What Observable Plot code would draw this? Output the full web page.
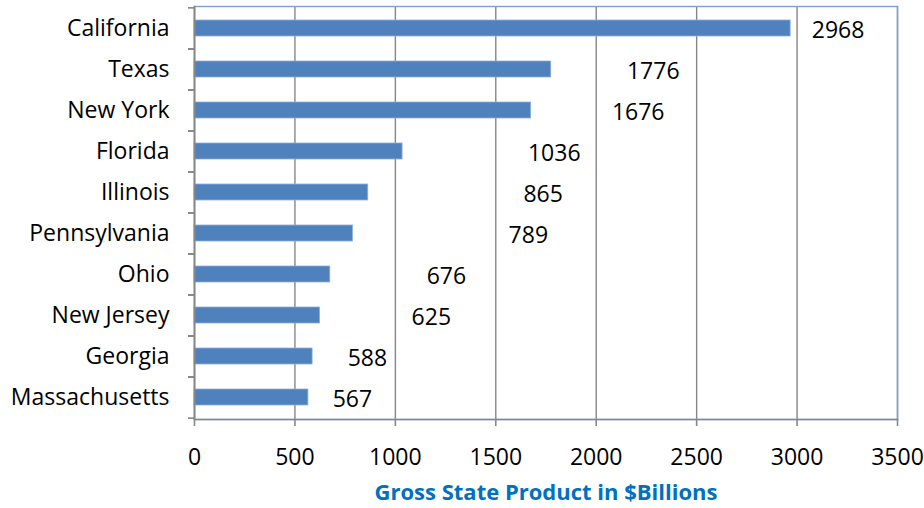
<!DOCTYPE html>
<html>
<head>
<meta charset="utf-8">
<script src="https://cdn.jsdelivr.net/npm/d3@7"></script>
<script src="https://cdn.jsdelivr.net/npm/@observablehq/plot@0.6"></script>
<style>
  html, body { margin: 0; padding: 0; background: #fff; }
  #chart svg { display: block; }
</style>
</head>
<body>
<div id="chart"></div>
<script>
const states = ["California","Texas","New York","Florida","Illinois","Pennsylvania","Ohio","New Jersey","Georgia","Massachusetts"];
const gsp = [2968,1776,1676,1036,865,789,676,625,588,567];
// where each data label sits along the value axis in the original (misplaced Excel labels)
const labelAt = [3204,2284,2209,1791,1736,1662,1254,1179,861,786];
const xTicks = [0,500,1000,1500,2000,2500,3000,3500];
const xTitle = "Gross State Product in $Billions";

const data = states.map((s, i) => ({state: s, value: gsp[i], labelX: labelAt[i]}));

const W = 924, H = 508, mT = 6, mB = 89, mL = 194, mR = 27;
const halfStep = (H - mT - mB) / states.length / 2;
const gray = "#878787", blue = "#7B9FD6";

const chart = Plot.plot({
  width: W, height: H,
  marginTop: mT, marginBottom: mB, marginLeft: mL, marginRight: mR,
  style: {fontFamily: "'Open Sans', sans-serif", fontSize: "23px", color: "#000", background: "#fff", overflow: "visible"},
  x: {domain: [0, 3500], ticks: xTicks, label: null},
  y: {domain: states, paddingInner: 0.61, paddingOuter: 0.305, label: null},
  marks: [
    Plot.ruleX(xTicks, {stroke: gray, strokeWidth: 1.4}),
    Plot.barX(data, {x: "value", y: "state", fill: "#4F81BD", stroke: "#8EAEDB", strokeWidth: 0.8}),
    Plot.frame({stroke: blue, strokeWidth: 1.4}),
    Plot.frame({anchor: "left", stroke: gray, strokeWidth: 1.6}),
    Plot.frame({anchor: "bottom", stroke: gray, strokeWidth: 1.6}),
    Plot.axisY({tickSize: 0, tickPadding: 25, fontSize: 23}),
    Plot.axisY({tickSize: 6, tickFormat: () => "", dy: -halfStep, stroke: gray, strokeWidth: 1.6}),
    Plot.axisY({tickSize: 6, tickFormat: () => "", dy: halfStep, stroke: gray, strokeWidth: 1.6}),
    Plot.axisX({ticks: xTicks, tickFormat: d => String(d), tickSize: 7, tickPadding: 22, stroke: gray, strokeWidth: 1.6, label: null, fontSize: 23, fill: "#000"}),
    Plot.text(data, {x: "labelX", y: "state", text: d => String(d.value), fontSize: 23, fill: "#000", dy: 2}),
    Plot.text([xTitle], {frameAnchor: "bottom", dy: 80, text: d => d, fontSize: 22, fontWeight: "bold", fill: "#0070C0"})
  ]
});
document.getElementById("chart").appendChild(chart);
</script>
</body>
</html>
